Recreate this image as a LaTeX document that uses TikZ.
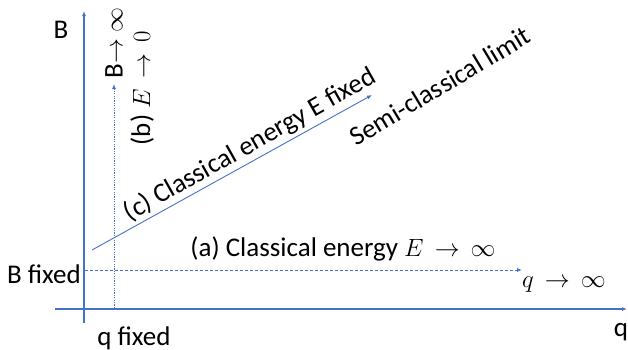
\documentclass[tikz,border=0pt]{standalone}
\usepackage{fontspec}
\setmainfont{Carlito}
\usetikzlibrary{arrows.meta, positioning, calc}
\definecolor{axisBlue}{RGB}{68,114,196}
\tikzset{
    axisLine/.style={draw=axisBlue, line width=1.4pt, -{Latex[length=5pt, width=4pt]}},
    limitLine/.style={draw=axisBlue, line width=0.9pt, -{Latex[length=5pt, width=4pt]}},
    txtLabel/.style={font=\fontsize{27}{32}\selectfont, inner sep=0pt, text=black}
}
\begin{document}
\begin{tikzpicture}[x=1pt, y=-1pt]
        \useasboundingbox (0,0) rectangle (628,349);

        % Coordinates
        \coordinate (O1) at (84,323);
        \coordinate (Btop) at (84,11);
        \coordinate (O2) at (55,309);
        \coordinate (Qend) at (627,309);
        \coordinate (Bstart) at (114,308);
        \coordinate (Bend) at (114,84);
        \coordinate (Astart) at (85,270);
        \coordinate (Aend) at (522,270);
        \coordinate (Cstart) at (92,250);
        \coordinate (Cend) at (372,95);

        % 1. Axes
        \draw[axisLine] (O1) -- (Btop);
        \draw[axisLine] (O2) -- (Qend);

        % 2. Limits (a), (b), (c)
        \draw[limitLine, dash pattern=on 3pt off 2pt] (Astart) -- (Aend);
        \draw[limitLine, dash pattern=on 1.2pt off 1.2pt] (Bstart) -- (Bend);
        \draw[limitLine] (Cstart) -- (Cend);

        % 3. Labels
        \node[txtLabel] (labB) at (61,30) {B};
        \node[txtLabel] (labQ) at (621,332) {q};
        \node[txtLabel, anchor=east] (labBfix) at (81,274) {B fixed};
        \node[txtLabel] (labQfix) at (134,338) {q fixed};
        \node[txtLabel] (labQinf) at (564,285) {$q\,\rightarrow\,\infty$};
        \node[txtLabel] (labA) at (343,249) {(a) Classical energy $E\,\rightarrow\,\infty$};
        \node[txtLabel, rotate=90] (labBinf) at (114,43) {B$\rightarrow$ $\infty$};
        \node[txtLabel, rotate=90] (labBlim) at (142,88) {(b) $E\,\rightarrow\,0$};
        \node[txtLabel, rotate=29.5] (labC) at (250,145) {(c) Classical energy E fixed};
        \node[txtLabel, rotate=31] (labSemi) at (440,86) {Semi-classical limit};

\end{tikzpicture}
\end{document}
